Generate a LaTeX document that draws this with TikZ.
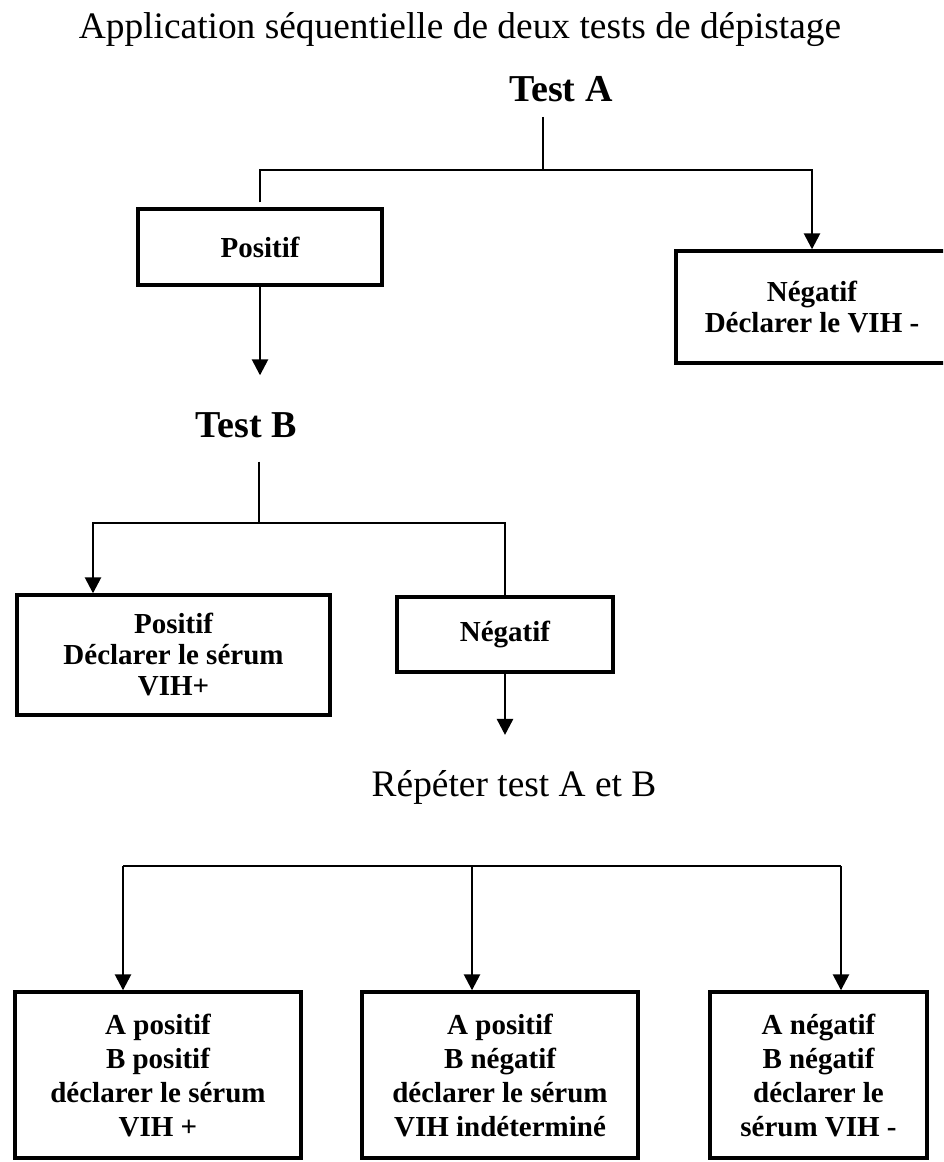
\documentclass[tikz,border=0pt]{standalone}
\usepackage{fontspec}
\setmainfont{Liberation Serif}
\usetikzlibrary{arrows.meta}

\begin{document}
\begin{tikzpicture}[x=0.5pt, y=-0.5pt,
    box/.style={rectangle, draw=black, line width=1.7pt, align=center, inner sep=0pt, font=\fontsize{14.5}{15.5}\selectfont\bfseries},
    result/.style={box, minimum height=83pt, font=\fontsize{14.5}{17}\selectfont\bfseries},
    testlbl/.style={font=\fontsize{19}{21}\selectfont\bfseries},
    plainlbl/.style={font=\fontsize{18.7}{21}\selectfont},
    conn/.style={line width=1.3pt},
    arrow/.style={line width=1.3pt, -{Triangle[width=8pt,length=8pt]}}
]
    \useasboundingbox (0,0) rectangle (943,1162);
    \clip (0,0) rectangle (943,1162);

    \node[plainlbl] (title) at (460,30) {Application séquentielle de deux tests de dépistage};

    % test A
    \node[testlbl] (testA) at (561,89) {Test A};
    \node[box, minimum width=122pt, minimum height=38pt] (posA) at (260,247) {Positif};
    \node[box, minimum width=136pt, minimum height=56pt] (negA) at (812,307) {Négatif\\Déclarer le VIH -};
    \coordinate (jA) at (543,170);

    \draw[conn] ([yshift=-4pt]testA.south -| jA) -- (jA);
    \draw[arrow] ([yshift=2.5pt]posA.north) |- (jA) -| (negA.north);

    % test B
    \node[testlbl] (testB) at (246,425) {Test B};
    \node[box, minimum width=156.5pt, minimum height=60pt] (posB) at (173.5,655) {Positif\\Déclarer le sérum\\VIH+};
    \node[box, minimum width=108pt, minimum height=37.5pt] (negB) at (505,634.5) {Négatif};
    \coordinate (jB) at (259,523);
    \coordinate (jBl) at (93,523);

    \draw[arrow] (posA.south) -- ([yshift=15pt]testB.north -| posA.south);
    \draw[conn] ([yshift=-8.5pt]testB.south -| jB) -- (jB);
    \draw[arrow] (negB.north) |- (jBl) -- (jBl |- posB.north);

    % repeat A and B
    \node[plainlbl] (repeat) at (514,787) {Répéter test A et B};
    \draw[arrow] (negB.south) -- ([yshift=14pt]repeat.north -| negB.south);

    \node[result, minimum width=143pt] (res1) at (158,1075) {A positif\\B positif\\déclarer le sérum\\VIH +};
    \node[result, minimum width=138pt] (res2) at (500,1075) {A positif\\B négatif\\déclarer le sérum\\VIH indéterminé};
    \node[result, minimum width=108.5pt] (res3) at (818.5,1075) {A négatif\\B négatif\\déclarer le\\sérum VIH -};

    \coordinate (r1) at (123,866);
    \coordinate (r2) at (472,866);
    \coordinate (r3) at (841,866);
    \draw[conn] (r1) -- (r3);
    \foreach \i in {1,2,3}
        \draw[arrow] (r\i) -- (r\i |- res\i.north);
\end{tikzpicture}
\end{document}
